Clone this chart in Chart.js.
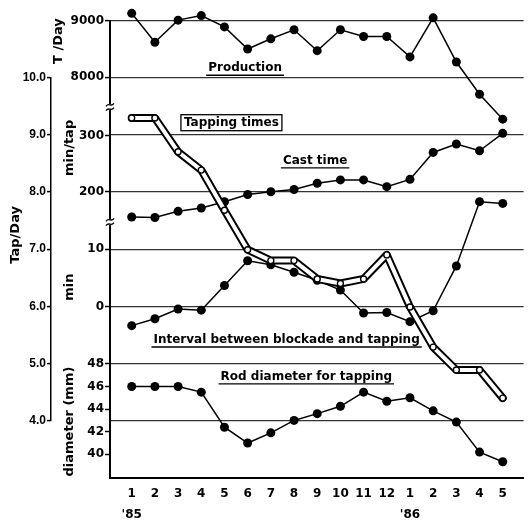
<!DOCTYPE html>
<html>
<head>
<meta charset="utf-8">
<script src="https://cdn.jsdelivr.net/npm/chart.js@4/dist/chart.umd.min.js"></script>
<style>
  html, body { margin: 0; padding: 0; background: #fff; }
  #wrap { width: 529px; height: 520px; }
</style>
</head>
<body>
<div id="wrap"><canvas id="blastChart"></canvas></div>
<script>
// Jan '85 .. May '86
const monthLabels = ['1', '2', '3', '4', '5', '6', '7', '8', '9', '10', '11', '12', '1', '2', '3', '4', '5'];
const yearLabels = ["'85", '', '', '', '', '', '', '', '', '', '', '', "'86", '', '', '', ''];

const production = [9130, 8620, 9010, 9090, 8890, 8500, 8680, 8840, 8470, 8840, 8720, 8720, 8360, 9050, 8270, 7700, 7260]; // T/Day
const castTime = [155, 154, 165, 171, 182, 195, 200, 204, 215, 221, 221, 209, 222, 270, 285, 273, 304]; // min/tap
const blockInterval = [-3.3, -2.1, -0.4, -0.6, 3.7, 8.0, 7.3, 6.0, 4.6, 2.9, -1.1, -1.0, -2.6, -0.7, 7.1, 18.3, 18.0]; // min
const rodDiameter = [46.0, 46.0, 46.0, 45.5, 42.4, 41.0, 41.9, 43.0, 43.6, 44.25, 45.5, 44.7, 45.0, 43.85, 42.85, 40.2, 39.35]; // mm
const tappingTimes = [9.29, 9.29, 8.70, 8.38, 7.68, 6.99, 6.80, 6.80, 6.48, 6.40, 6.48, 6.90, 5.99, 5.29, 4.89, 4.89, 4.40]; // Tap/Day

const prodTicks = [8000, 9000];
const castTicks = [200, 300];
const minTicks = [0, 10];
const diaTicks = [40, 42, 44, 46, 48];
const tapTicks = [4, 5, 6, 7, 8, 9, 10];

const X_MIN = 0.064;  // x value at the main axis
const X_MAX = 17.9;

// vertical pixel band used by each section of the broken axis
const bands = {
  yProd: [20.7, 107],
  yCast: [107, 222],
  yMin: [222, 340],
  yDia: [340, 478],
  yTap: [77.3, 421]
};

const notes = [
  { text: 'Production', x: 5.89, axis: 'yProd', y: 8160, mark: 'underline' },
  { text: 'Tapping times', x: 5.30, axis: 'yCast', y: 323, mark: 'box' },
  { text: 'Cast time', x: 8.91, axis: 'yCast', y: 255, mark: 'underline' },
  { text: 'Interval between blockade and tapping', x: 7.68, axis: 'yMin', y: -5.8, mark: 'underline' },
  { text: 'Rod diameter for tapping', x: 8.53, axis: 'yDia', y: 46.85, mark: 'underline' }
];

const unitTitles = [
  { text: 'T /Day', x: -2.15, axis: 'yProd', y: 8640 },
  { text: 'min/tap', x: -1.68, axis: 'yCast', y: 278 },
  { text: 'min', x: -1.68, axis: 'yMin', y: 3.4 },
  { text: 'diameter (mm)', x: -1.68, axis: 'yDia', y: 42.9 },
  { text: 'Tap/Day', x: -4.02, axis: 'yTap', y: 7.25 }
];

const INK = '#000';
const boldFont = (size, family) => ({ family: family || 'DejaVu Sans', weight: 'bold', size: size });

function yAxis(min, max, ticks, extra) {
  const base = {
    type: 'linear',
    position: 'left',
    stack: 'main',
    min: min,
    max: max,
    bounds: 'data',
    afterBuildTicks: s => { s.ticks = ticks.map(v => ({ value: v })); },
    afterFit: s => { s.width = 59; },
    ticks: { autoSkip: false, color: INK, font: boldFont(12), padding: 1, callback: v => String(v) },
    grid: { color: 'transparent', tickColor: INK, tickLength: 5, tickWidth: 1.5 },
    border: { color: INK, width: 2 }
  };
  return Object.assign(base, extra || {});
}

// put each axis section into its own band
const bandPlugin = {
  id: 'bands',
  afterLayout(chart) {
    Object.keys(bands).forEach(id => {
      const s = chart.scales[id];
      s.top = bands[id][0];
      s.bottom = bands[id][1];
      s.height = s.bottom - s.top;
      s.configure();
    });
  }
};

const textPlugin = {
  id: 'texts',
  afterDraw(chart) {
    const ctx = chart.ctx;
    const xs = chart.scales.x;
    ctx.save();
    ctx.strokeStyle = INK;

    // axis breaks
    const ax = chart.chartArea.left;
    [chart.scales.yProd.bottom, chart.scales.yCast.bottom].forEach(by => {
      ctx.fillStyle = '#fff';
      ctx.fillRect(ax - 3, by - 3, 6, 6);
      ctx.lineWidth = 1.3;
      [-2.2, 2.2].forEach(dy => {
        ctx.beginPath();
        ctx.moveTo(ax - 4, by + dy + 1.5);
        ctx.bezierCurveTo(ax - 1, by + dy - 3, ax + 1, by + dy + 3, ax + 4, by + dy - 1.5);
        ctx.stroke();
      });
    });

    ctx.fillStyle = INK;
    ctx.font = 'bold 12px "DejaVu Sans"';
    ctx.textAlign = 'center';
    ctx.textBaseline = 'middle';
    notes.forEach(n => {
      const px = xs.getPixelForValue(n.x);
      const py = chart.scales[n.axis].getPixelForValue(n.y);
      ctx.fillText(n.text, px, py);
      const w = ctx.measureText(n.text).width;
      ctx.lineWidth = 1.3;
      if (n.mark === 'underline') {
        ctx.beginPath();
        ctx.moveTo(px - w / 2 - 2, py + 7);
        ctx.lineTo(px + w / 2 + 2, py + 7);
        ctx.stroke();
      } else {
        ctx.strokeRect(px - w / 2 - 3, py - 8, w + 6, 16);
      }
    });

    ctx.font = 'bold 13px "DejaVu Sans"';
    unitTitles.forEach(u => {
      const px = xs.getPixelForValue(u.x);
      const py = chart.scales[u.axis].getPixelForValue(u.y);
      ctx.save();
      ctx.translate(px, py);
      ctx.rotate(-Math.PI / 2);
      ctx.fillText(u.text, 0, 0);
      ctx.restore();
    });
    ctx.restore();
  }
};

const pointSeries = (data, axis) => ({
  data: data,
  yAxisID: axis,
  borderColor: INK,
  borderWidth: 1.5,
  pointRadius: 4.5,
  pointBackgroundColor: INK,
  pointBorderColor: INK,
  pointBorderWidth: 0,
  clip: false,
  order: 2
});

new Chart(document.getElementById('blastChart'), {
  type: 'line',
  data: {
    labels: monthLabels.map((m, i) => i + 1),
    datasets: [
      // tapping times: hollow tube with open circles
      {
        data: tappingTimes, yAxisID: 'yTap', borderColor: '#fff', borderWidth: 4,
        borderJoinStyle: 'round', pointRadius: 3, pointBackgroundColor: '#fff',
        pointBorderColor: INK, pointBorderWidth: 1.4, clip: false, order: 0
      },
      {
        data: tappingTimes, yAxisID: 'yTap', borderColor: INK, borderWidth: 8,
        borderJoinStyle: 'round', borderCapStyle: 'round', pointRadius: 0, clip: false, order: 1
      },
      pointSeries(production, 'yProd'),
      pointSeries(castTime, 'yCast'),
      pointSeries(blockInterval, 'yMin'),
      pointSeries(rodDiameter, 'yDia')
    ]
  },
  options: {
    responsive: true,
    maintainAspectRatio: false,
    animation: false,
    events: [],
    layout: { padding: { left: 0, right: 0, top: 8, bottom: 0 } },
    plugins: { legend: { display: false }, tooltip: { enabled: false } },
    scales: {
      x: {
        type: 'linear',
        position: 'bottom',
        min: X_MIN,
        max: X_MAX,
        bounds: 'data',
        afterBuildTicks: s => { s.ticks = monthLabels.map((m, i) => ({ value: i + 1 })); },
        afterFit: s => { s.height = 42; },
        ticks: {
          autoSkip: false, maxRotation: 0, padding: 6, color: INK,
          font: Object.assign(boldFont(12), { lineHeight: 1.7 }),
          callback: (v, i) => yearLabels[i] ? [monthLabels[i], yearLabels[i]] : monthLabels[i]
        },
        grid: { drawOnChartArea: false, drawTicks: false, color: 'transparent' },
        border: { color: INK, width: 2 }
      },
      yProd: yAxis(7475, 9000, prodTicks, {
        grid: { color: '#333', lineWidth: 1.2, tickColor: INK, tickLength: 5, tickWidth: 1.5 }
      }),
      yCast: yAxis(146, 351, castTicks),
      yMin: yAxis(-5.8, 14.76, minTicks),
      yDia: yAxis(37.91, 50.11, diaTicks),
      yTap: yAxis(4, 10, tapTicks, {
        stack: undefined,
        weight: 10,
        afterFit: s => { s.width = 51; },
        ticks: { autoSkip: false, color: INK, font: boldFont(12, 'Liberation Sans'), padding: 1, callback: v => v.toFixed(1) },
        grid: {
          color: c => (c.tick && c.tick.value === 10) ? 'transparent' : '#333',
          lineWidth: 1.2, tickColor: INK, tickLength: 4, tickWidth: 1.5
        },
        border: { color: INK, width: 1.5 }
      })
    }
  },
  plugins: [bandPlugin, textPlugin]
});
</script>
</body>
</html>
